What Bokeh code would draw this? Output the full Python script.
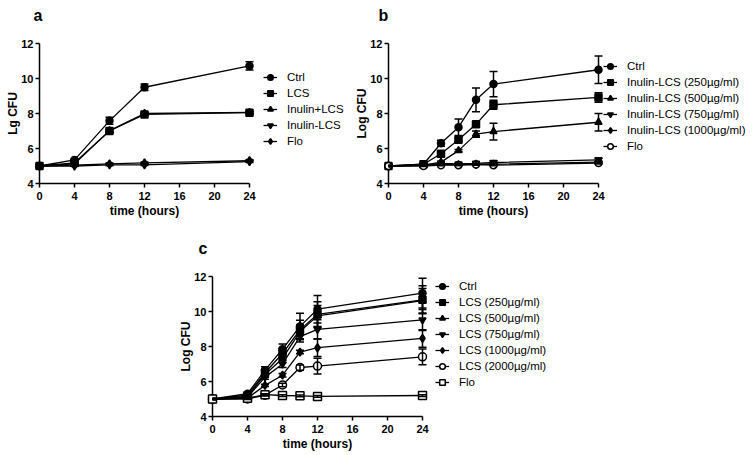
from bokeh.plotting import figure
from bokeh.models import (ColumnDataSource, Whisker, TeeHead, Legend, LegendItem,
                          FixedTicker, Range1d)
from bokeh.core.properties import value
from bokeh.layouts import column, row
from bokeh.embed import file_html
from bokeh.resources import INLINE

FONT = "Liberation Sans"

# ---------------- data ----------------
x_ticks = [0, 4, 8, 12, 16, 20, 24]
y_ticks = [4, 6, 8, 10, 12]
x_min, x_max = 0, 24
y_min, y_max = 4, 12
x_title = "time (hours)"

# panel a
t_a = [0, 4, 8, 12, 24]
a_names = ["Ctrl", "LCS", "Inulin+LCS", "Inulin-LCS", "Flo"]
a_ctrl = [5.0, 5.35, 7.58, 9.5, 10.72]
a_ctrl_err = [0.03, 0.05, 0.2, 0.18, 0.24]
a_lcs = [5.0, 5.18, 7.0, 7.95, 8.05]
a_lcs_err = [0.03, 0.05, 0.08, 0.06, 0.06]
a_inp = [5.0, 5.12, 7.02, 8.0, 8.06]
a_inp_err = [0.03, 0.04, 0.06, 0.05, 0.05]
a_inm = [5.0, 5.0, 5.06, 5.07, 5.25]
a_inm_err = [0.03, 0.03, 0.04, 0.04, 0.05]
a_flo = [5.0, 5.05, 5.12, 5.18, 5.3]
a_flo_err = [0.03, 0.03, 0.04, 0.05, 0.05]

# panel b
t_b = [0, 4, 6, 8, 10, 12, 24]
b_names = ["Ctrl", "Inulin-LCS (250\u00b5g/ml)", "Inulin-LCS (500\u00b5g/ml)",
           "Inulin-LCS (750\u00b5g/ml)", "Inulin-LCS (1000\u00b5g/ml)", "Flo"]
b_ctrl = [5.0, 5.1, 6.3, 7.22, 8.78, 9.68, 10.5]
b_ctrl_err = [0.03, 0.05, 0.17, 0.47, 0.68, 0.72, 0.79]
b_250 = [5.0, 5.1, 5.7, 6.5, 7.38, 8.5, 8.92]
b_250_err = [0.03, 0.05, 0.06, 0.1, 0.15, 0.26, 0.27]
b_500 = [5.0, 5.05, 5.22, 5.88, 6.82, 6.97, 7.5]
b_500_err = [0.03, 0.04, 0.05, 0.06, 0.18, 0.48, 0.5]
b_750 = [5.0, 5.05, 5.15, 5.12, 5.15, 5.2, 5.35]
b_750_err = [0.03, 0.04, 0.05, 0.05, 0.08, 0.08, 0.1]
b_1000 = [5.0, 5.05, 5.08, 5.08, 5.1, 5.1, 5.22]
b_1000_err = [0.03, 0.03, 0.04, 0.04, 0.05, 0.05, 0.06]
b_flo = [5.0, 5.0, 5.05, 5.05, 5.08, 5.05, 5.17]
b_flo_err = [0.03, 0.03, 0.03, 0.03, 0.04, 0.04, 0.05]

# panel c
t_c = [0, 4, 6, 8, 10, 12, 24]
c_names = ["Ctrl", "LCS (250\u00b5g/ml)", "LCS (500\u00b5g/ml)", "LCS (750\u00b5g/ml)",
           "LCS (1000\u00b5g/ml)", "LCS (2000\u00b5g/ml)", "Flo"]
c_ctrl = [5.0, 5.3, 6.65, 7.85, 9.15, 10.13, 11.05]
c_ctrl_err = [0.03, 0.05, 0.2, 0.3, 0.75, 0.78, 0.85]
c_250 = [5.0, 5.22, 6.5, 7.6, 8.95, 9.84, 10.67]
c_250_err = [0.03, 0.05, 0.15, 0.3, 0.55, 0.72, 0.8]
c_500 = [5.0, 5.15, 6.4, 7.32, 8.85, 9.75, 10.62]
c_500_err = [0.03, 0.05, 0.15, 0.25, 0.4, 0.6, 0.7]
c_750 = [5.0, 5.1, 6.25, 7.0, 8.56, 8.98, 9.52]
c_750_err = [0.03, 0.05, 0.12, 0.2, 0.3, 0.55, 0.6]
c_1000 = [5.0, 5.05, 5.78, 6.36, 7.68, 7.93, 8.46]
c_1000_err = [0.03, 0.04, 0.06, 0.1, 0.1, 0.5, 0.5]
c_2000 = [5.0, 5.0, 5.22, 5.8, 6.8, 6.88, 7.41]
c_2000_err = [0.03, 0.03, 0.05, 0.1, 0.15, 0.45, 0.45]
c_flo = [5.0, 5.05, 5.25, 5.2, 5.18, 5.15, 5.2]
c_flo_err = [0.03, 0.03, 0.05, 0.05, 0.05, 0.05, 0.05]

AXIS_W = 210  # pixel length of the 0..24 h axis


def make_panel(letter, ylabel, t, series, frame_w, borders, legend_loc, letter_dx):
    left, right, top, bottom = borders
    # frame is wider than the axis so that the legend sits inside the frame;
    # the x axis itself is bounded to 0..24 h
    x_end = x_max * frame_w / AXIS_W
    p = figure(frame_width=frame_w, frame_height=140,
               x_range=Range1d(x_min, x_end), y_range=Range1d(y_min, y_max),
               output_backend="svg", toolbar_location=None,
               min_border_left=left, min_border_right=right,
               min_border_top=top, min_border_bottom=bottom,
               background_fill_color="white", border_fill_color="white")
    p.outline_line_color = None
    p.xgrid.visible = False
    p.ygrid.visible = False
    p.xaxis.ticker = FixedTicker(ticks=x_ticks)
    p.yaxis.ticker = FixedTicker(ticks=y_ticks)
    p.xaxis.bounds = (x_min, x_max)
    p.yaxis.axis_label = ylabel
    for ax in (p.xaxis, p.yaxis):
        ax.axis_line_width = 1.5
        ax.axis_line_color = "black"
        ax.major_tick_line_width = 1.5
        ax.major_tick_line_color = "black"
        ax.major_tick_out = 4
        ax.major_tick_in = 0
        ax.minor_tick_line_color = None
        ax.major_label_text_font = FONT
        ax.major_label_text_font_style = "bold"
        ax.major_label_text_font_size = "11px"
        ax.major_label_text_color = "black"
        ax.axis_label_text_font = FONT
        ax.axis_label_text_font_style = "bold"
        ax.axis_label_text_font_size = "12px"
        ax.axis_label_text_color = "black"
    p.xaxis.major_label_standoff = 4
    p.yaxis.major_label_standoff = 2
    p.yaxis.axis_label_standoff = -2

    # x axis title, centred under the 0..24 h axis
    p.text(x=[(x_min + x_max) / 2], y=[y_min], text=[x_title],
           y_offset=27, text_align="center", text_baseline="middle",
           text_font=value(FONT), text_font_size=value("12px"),
           text_font_style="bold", text_color="black", level="overlay")
    # panel letter, above the top-left corner of the axes
    p.text(x=[x_min], y=[y_max], text=[letter], x_offset=letter_dx, y_offset=-28,
           text_align="left", text_baseline="alphabetic",
           text_font=value(FONT), text_font_size=value("16px"),
           text_font_style="bold", text_color="black", level="overlay")

    items = []
    for name, vals, errs, marker, filled, size in series:
        src = ColumnDataSource(dict(x=t, y=vals,
                                    upper=[v + e for v, e in zip(vals, errs)],
                                    lower=[v - e for v, e in zip(vals, errs)]))
        w = Whisker(source=src, base="x", upper="upper", lower="lower",
                    line_color="black", line_width=1.5, level="overlay",
                    upper_head=TeeHead(size=8, line_width=1.5, line_color="black"),
                    lower_head=TeeHead(size=8, line_width=1.5, line_color="black"))
        p.add_layout(w)
        ln = p.line("x", "y", source=src, line_color="black", line_width=1.3,
                    level="overlay")
        sc = p.scatter("x", "y", source=src, marker=marker, size=size,
                       fill_color="black" if filled else "white",
                       line_color="black", line_width=1.5, level="overlay")
        items.append(LegendItem(label=name, renderers=[ln, sc]))

    leg = Legend(items=items, location=legend_loc, padding=0, margin=0,
                 border_line_color=None, background_fill_alpha=0,
                 glyph_width=14, glyph_height=14, label_height=14,
                 label_standoff=10, spacing=2,
                 label_text_font=FONT, label_text_font_size="11.5px",
                 label_text_color="black")
    p.add_layout(leg)
    return p


pa = make_panel("a", "Lg CFU", t_a, [
    (a_names[0], a_ctrl, a_ctrl_err, "circle", True, 7),
    (a_names[1], a_lcs, a_lcs_err, "square", True, 7),
    (a_names[2], a_inp, a_inp_err, "triangle", True, 7),
    (a_names[3], a_inm, a_inm_err, "inverted_triangle", True, 7),
    (a_names[4], a_flo, a_flo_err, "diamond", True, 8),
], 306, (39, 4, 43, 46), (224, 35), -6)

pb = make_panel("b", "Log CFU", t_b, [
    (b_names[0], b_ctrl, b_ctrl_err, "circle", True, 7),
    (b_names[1], b_250, b_250_err, "square", True, 7),
    (b_names[2], b_500, b_500_err, "triangle", True, 7),
    (b_names[3], b_750, b_750_err, "inverted_triangle", True, 7),
    (b_names[4], b_1000, b_1000_err, "diamond", True, 8),
    (b_names[5], b_flo, b_flo_err, "circle", False, 7),
], 362, (39, 0, 43, 46), (215, 30), -10)

pc = make_panel("c", "Log CFU", t_c, [
    (c_names[0], c_ctrl, c_ctrl_err, "circle", True, 7),
    (c_names[1], c_250, c_250_err, "square", True, 7),
    (c_names[2], c_500, c_500_err, "triangle", True, 7),
    (c_names[3], c_750, c_750_err, "inverted_triangle", True, 7),
    (c_names[4], c_1000, c_1000_err, "diamond", True, 8),
    (c_names[5], c_2000, c_2000_err, "circle", False, 8),
    (c_names[6], c_flo, c_flo_err, "square", False, 8),
], 340, (212, 0, 47, 36), (223, 27), -14)

layout = column(row(pa, pb), pc, spacing=0)
open("out.html", "w").write(file_html(layout, INLINE))
